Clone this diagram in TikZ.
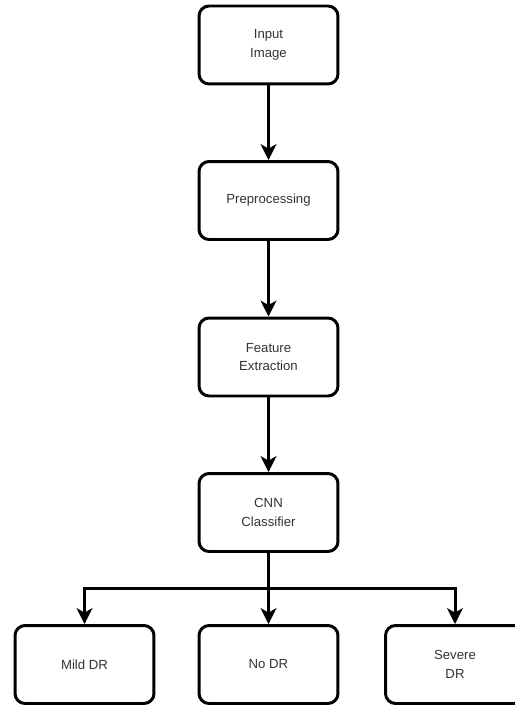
\documentclass[tikz,border=0pt]{standalone}
\usepackage{fontspec}
\setmainfont{Liberation Sans}
\usepackage{tikz}
\usetikzlibrary{arrows.meta}

\tikzset{
    stage/.style={rectangle, draw, rounded corners=0.2cm, line width=1.7pt,
        minimum width=2.78cm, minimum height=1.56cm, align=center,
        font=\fontsize{7.5}{10.5}\selectfont, text=black!80},
    flow/.style={line width=1.7pt, -{Stealth[length=9pt,width=9pt,inset=2.5pt]}}
}

\begin{document}
\begin{tikzpicture}[x=0.02cm,y=-0.02cm]
    % page frame
    \useasboundingbox (0,0) rectangle (514,706);

    % pipeline stages
    \node[stage] (input) at (268.5,45) {Input\\Image};
    \node[stage] (prep) at (268.5,200.5) {Preprocessing};
    \node[stage] (feat) at (268.5,357) {Feature\\Extraction};
    \node[stage] (cnn) at (268.5,512.5) {CNN\\Classifier};

    % outcomes
    \node[stage] (mild) at (84.5,664.5) {Mild DR};
    \node[stage] (nodr) at (268.5,664.5) {No DR};
    \node[stage] (severe) at (455,664.5) {Severe\\DR};

    \coordinate (split) at (268.5,588);

    \draw[flow] (input) -- (prep);
    \draw[flow] (prep) -- (feat);
    \draw[flow] (feat) -- (cnn);
    \draw[flow] (cnn) -- (nodr);
    \draw[flow] (split) -| (mild);
    \draw[flow] (split) -| (severe);

\end{tikzpicture}
\end{document}
